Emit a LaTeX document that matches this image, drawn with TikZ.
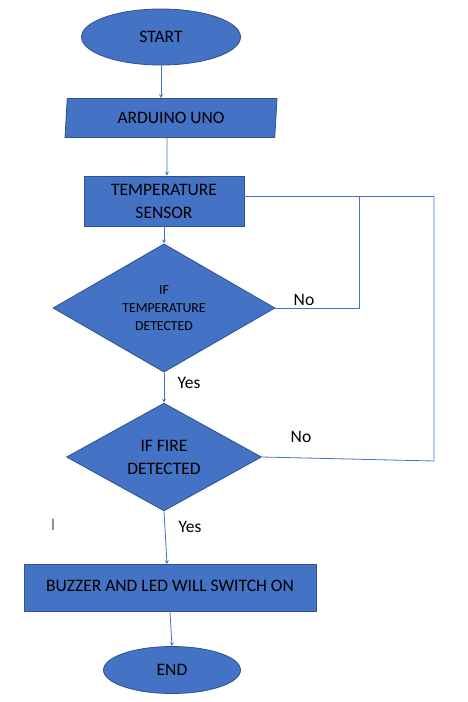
\documentclass[tikz,border=0pt]{standalone}
\usepackage{fontspec}
\setmainfont{Carlito}
\usetikzlibrary{shapes.geometric}
\definecolor{boxblue}{HTML}{4472C4}
\definecolor{edgeblue}{HTML}{2F528F}

\begin{document}
\begin{tikzpicture}[x=1pt,y=-1pt,
	every node/.style={font=\fontsize{17.5}{23}\selectfont,align=center,inner sep=0pt},
	blk/.style={fill=boxblue,draw=edgeblue,line width=0.8pt},
	oval/.style={blk,ellipse},
	iobox/.style={blk,trapezium,trapezium left angle=79,trapezium right angle=101,trapezium stretches body},
	procbox/.style={blk,rectangle},
	decision/.style={blk,diamond},
	flow/.style={boxblue,line width=0.8pt,-stealth},
	wire/.style={boxblue,line width=0.8pt}]
			\useasboundingbox (0,0) rectangle (467,702);
			\node[oval,minimum width=159pt,minimum height=56pt](start) at (161,37){START};
			\node[iobox,minimum width=212pt,minimum height=39pt](arduino) at (171,118){ARDUINO UNO};
			\node[procbox,minimum width=160pt,minimum height=50pt](sensor) at (164,201){TEMPERATURE\\SENSOR};
			\node[decision,minimum width=222pt,minimum height=123pt,font=\fontsize{13.8}{18}\selectfont](tempif) at (164,308){IF\\TEMPERATURE\\DETECTED};
			\node[decision,minimum width=195pt,minimum height=104pt](fireif) at (164,457){IF FIRE\\DETECTED};
			\node[procbox,minimum width=292pt,minimum height=47pt](buzzer) at (170,588){\raisebox{4pt}{BUZZER AND LED WILL SWITCH ON}};
			\node[oval,minimum width=137pt,minimum height=47pt](finish) at (172,670){END};
			\coordinate(loopa) at (359,196);
			\coordinate(loopb) at (434,196);
			\coordinate(loopc) at (434,461);
			\draw[flow](start.south)--(start.south|-arduino.north);
			\draw[flow]([xshift=-4pt]arduino.south)--([xshift=3pt]sensor.north);
			\draw[flow](sensor.south)--(tempif.north);
			\draw[flow](tempif.south)--(fireif.north);
			\draw[flow](fireif.south)--([xshift=-3pt]buzzer.north);
			\draw[flow](buzzer.south)--(finish.north);
			\draw[wire]([yshift=5pt]sensor.east)--(loopb);
			\draw[wire](tempif.east)--(tempif.east-|loopa)--(loopa);
			\draw[wire](fireif.east)--(loopc)--(loopb);
			\node(notemp) at (304,300){No};
			\node(nofire) at (301,437){No};
			\node(yestemp) at (189,383){Yes};
			\node(yesfire) at (190,527){Yes};
			\node[font=\fontsize{13}{13}\selectfont](cursor) at (53,525){|};
		\end{tikzpicture}
\end{document}
